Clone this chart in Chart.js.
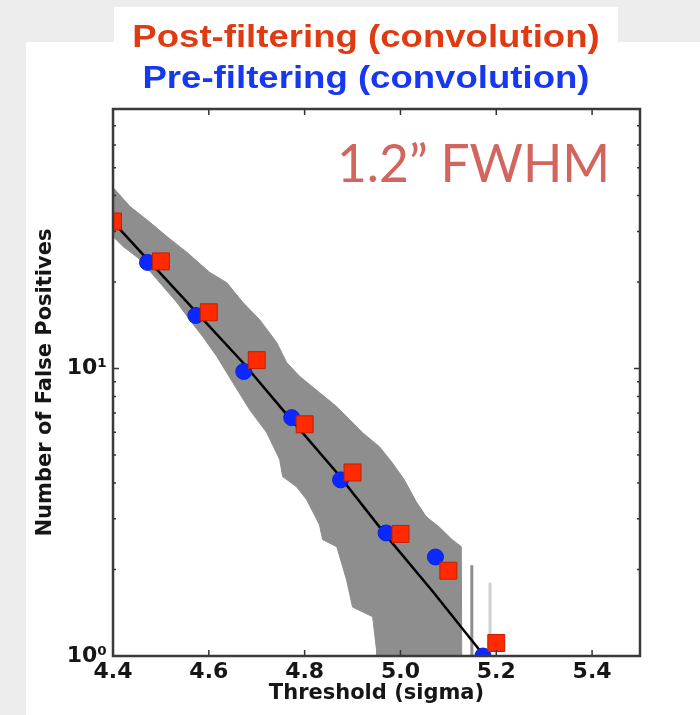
<!DOCTYPE html>
<html><head><meta charset="utf-8">
<script src="https://cdn.jsdelivr.net/npm/chart.js@4.4.0/dist/chart.umd.min.js"></script>
<style>
html,body{margin:0;padding:0;}
body{width:700px;height:715px;background:#ededed;position:relative;overflow:hidden;}
#panel{position:absolute;left:26px;top:42px;width:674px;height:673px;background:#fff;}
#titlebox{position:absolute;left:114px;top:7px;width:504px;height:36px;background:#fff;}
#cv{position:absolute;left:0;top:0;}
.t{position:absolute;left:0;width:732px;text-align:center;font-family:"Liberation Sans",Arial,sans-serif;font-weight:bold;font-size:31px;line-height:31px;white-space:nowrap;transform:scaleX(1.18);transform-origin:366px 0;}
#t1{top:21px;color:#e03a12;}
#t2{top:62px;color:#1838f0;}
#fw{position:absolute;left:337px;top:137px;font-family:Lato,"Open Sans",sans-serif;font-weight:400;font-size:51.5px;line-height:51.5px;color:#d2665e;white-space:nowrap;}
</style></head>
<body>
<div id="panel"></div>
<div id="titlebox"></div>
<canvas id="cv" width="700" height="715"></canvas>
<div class="t" id="t1">Post-filtering (convolution)</div>
<div class="t" id="t2">Pre-filtering (convolution)</div>
<div id="fw">1.2” FWHM</div>
<script>
// ---- data ----
const postX = [4.4, 4.5, 4.6, 4.7, 4.8, 4.9, 5.0, 5.1, 5.2];
const postY = [32.5, 23.6, 15.7, 10.7, 6.4, 4.35, 2.66, 1.98, 1.11];
const preX  = [4.472, 4.573, 4.673, 4.773, 4.875, 4.97, 5.073, 5.172];
const preY  = [23.4, 15.3, 9.77, 6.75, 4.1, 2.68, 2.21, 1.0];
const modelX = [4.4, 4.473, 4.671, 4.754, 4.867, 4.977, 5.067, 5.175];
const modelY = [32.4, 23.9, 10.5, 7.2, 4.35, 2.54, 1.68, 1.0];
const bandUpX = [4.4, 4.435, 4.477, 4.5125, 4.554, 4.602, 4.6375, 4.671, 4.706, 4.742, 4.7625, 4.79, 4.831, 4.867, 4.894, 4.921, 4.956, 4.983, 5.008, 5.033, 5.054, 5.081, 5.108, 5.127, 5.129];
const bandUpY = [42.7, 36.7, 32.3, 28.8, 25.4, 21.6, 19.9, 17.0, 14.8, 12.3, 10.5, 9.38, 8.25, 7.37, 6.64, 5.98, 5.35, 4.70, 4.10, 3.44, 3.05, 2.81, 2.54, 2.40, 0.3];
const bandLoX = [4.4, 4.421, 4.456, 4.492, 4.533, 4.560, 4.5875, 4.617, 4.65, 4.685, 4.721, 4.748, 4.754, 4.783, 4.804, 4.831, 4.8375, 4.867, 4.8875, 4.9, 4.942, 4.95, 4.953, 5.129];
const bandLoY = [28.8, 26.6, 24.0, 20.4, 17.0, 14.8, 12.9, 11.0, 8.94, 7.20, 5.98, 4.82, 4.21, 3.88, 3.50, 2.86, 2.54, 2.40, 1.84, 1.48, 1.37, 1.05, 0.3, 0.3];
const spikeDarkX = [5.149, 5.149];
const spikeDarkY = [0.3, 2.07];
const spikeLightX = [5.187, 5.187];
const spikeLightY = [0.3, 1.80];
const xTickVals = [4.4, 4.6, 4.8, 5.0, 5.2, 5.4];
const yTickVals = [1, 10];
const yTickLabels = ['10\u2070', '10\u00b9'];
const yMinorVals = [2, 3, 4, 5, 6, 7, 8, 9, 20, 30, 40, 50, 60, 70, 80];

const pts = (xs, ys) => xs.map((x, i) => ({x, y: ys[i]}));
const tickFont = {family: '"DejaVu Sans", sans-serif', weight: 'bold', size: 22};
const titleFont = {family: '"DejaVu Sans", sans-serif', weight: 'bold', size: 21};

const framePlugin = {
  id: 'frame',
  afterDatasetsDraw(chart) {
    const {ctx, chartArea: a, scales: {x, y}} = chart;
    ctx.save();
    ctx.strokeStyle = '#333';
    ctx.lineWidth = 1.5;
    ctx.beginPath();
    xTickVals.forEach(v => {
      const px = x.getPixelForValue(v);
      ctx.moveTo(px, a.bottom); ctx.lineTo(px, a.bottom - 6);
      ctx.moveTo(px, a.top); ctx.lineTo(px, a.top + 6);
    });
    yTickVals.forEach(v => {
      const py = y.getPixelForValue(v);
      ctx.moveTo(a.left, py); ctx.lineTo(a.left + 6, py);
      ctx.moveTo(a.right, py); ctx.lineTo(a.right - 6, py);
    });
    yMinorVals.forEach(v => {
      const py = y.getPixelForValue(v);
      ctx.moveTo(a.left, py); ctx.lineTo(a.left + 3, py);
      ctx.moveTo(a.right, py); ctx.lineTo(a.right - 3, py);
    });
    ctx.stroke();
    ctx.lineWidth = 2.5;
    ctx.strokeStyle = '#3a3a3a';
    ctx.strokeRect(a.left, a.top, a.width, a.height);
    ctx.restore();
  }
};

new Chart(document.getElementById('cv'), {
  type: 'scatter',
  data: {
    datasets: [
      {label: 'bandUp', data: pts(bandUpX, bandUpY), showLine: true, pointRadius: 0, borderColor: '#8e8e8e', borderWidth: 1, fill: false, order: 6},
      {label: 'bandLo', data: pts(bandLoX, bandLoY), showLine: true, pointRadius: 0, borderColor: '#8e8e8e', borderWidth: 1, backgroundColor: '#8e8e8e', fill: '-1', order: 5},
      {label: 'spikeDark', data: pts(spikeDarkX, spikeDarkY), showLine: true, pointRadius: 0, borderColor: '#8e8e8e', borderWidth: 3, order: 4},
      {label: 'spikeLight', data: pts(spikeLightX, spikeLightY), showLine: true, pointRadius: 0, borderColor: '#cfcfcf', borderWidth: 3, order: 4},
      {label: 'model', data: pts(modelX, modelY), showLine: true, pointRadius: 0, borderColor: '#000', borderWidth: 2.5, tension: 0, order: 3},
      {label: 'Pre-filtering', data: pts(preX, preY), pointStyle: 'circle', pointRadius: 8, backgroundColor: '#0a28ff', borderColor: '#0a22d8', borderWidth: 1, clip: 0, order: 2},
      {label: 'Post-filtering', data: pts(postX, postY), pointStyle: 'rect', pointRadius: 12, backgroundColor: '#ff2a00', borderColor: '#c41e00', borderWidth: 1, clip: 0, order: 1}
    ]
  },
  options: {
    responsive: false,
    animation: false,
    events: [],
    layout: {padding: {left: 0, right: 60, top: 109, bottom: 0}},
    plugins: {legend: {display: false}, tooltip: {enabled: false}},
    scales: {
      x: {
        type: 'linear', min: 4.4, max: 5.5,
        grid: {display: false, drawTicks: false},
        border: {display: false},
        afterBuildTicks: s => { s.ticks = xTickVals.map(v => ({value: v})); },
        afterFit: s => { s.height = 59; },
        ticks: {font: tickFont, color: '#161616', padding: 3, maxRotation: 0, autoSkip: false,
                callback: v => Number(v).toFixed(1)},
        title: {display: true, text: 'Threshold (sigma)', font: titleFont, color: '#161616', padding: {top: 0, bottom: 9}}
      },
      y: {
        type: 'logarithmic', min: 1, max: 80,
        grid: {display: false, drawTicks: false},
        border: {display: false},
        afterBuildTicks: s => { s.ticks = yTickVals.map(v => ({value: v})); },
        afterFit: s => { s.width = 113; },
        ticks: {font: tickFont, color: '#161616', padding: 6, autoSkip: false,
                callback: v => yTickLabels[yTickVals.indexOf(Number(v))] || ''},
        title: {display: true, text: 'Number of False Positives', font: titleFont, color: '#161616', padding: {top: 33, bottom: 0}}
      }
    }
  },
  plugins: [framePlugin]
});
</script>
</body></html>
